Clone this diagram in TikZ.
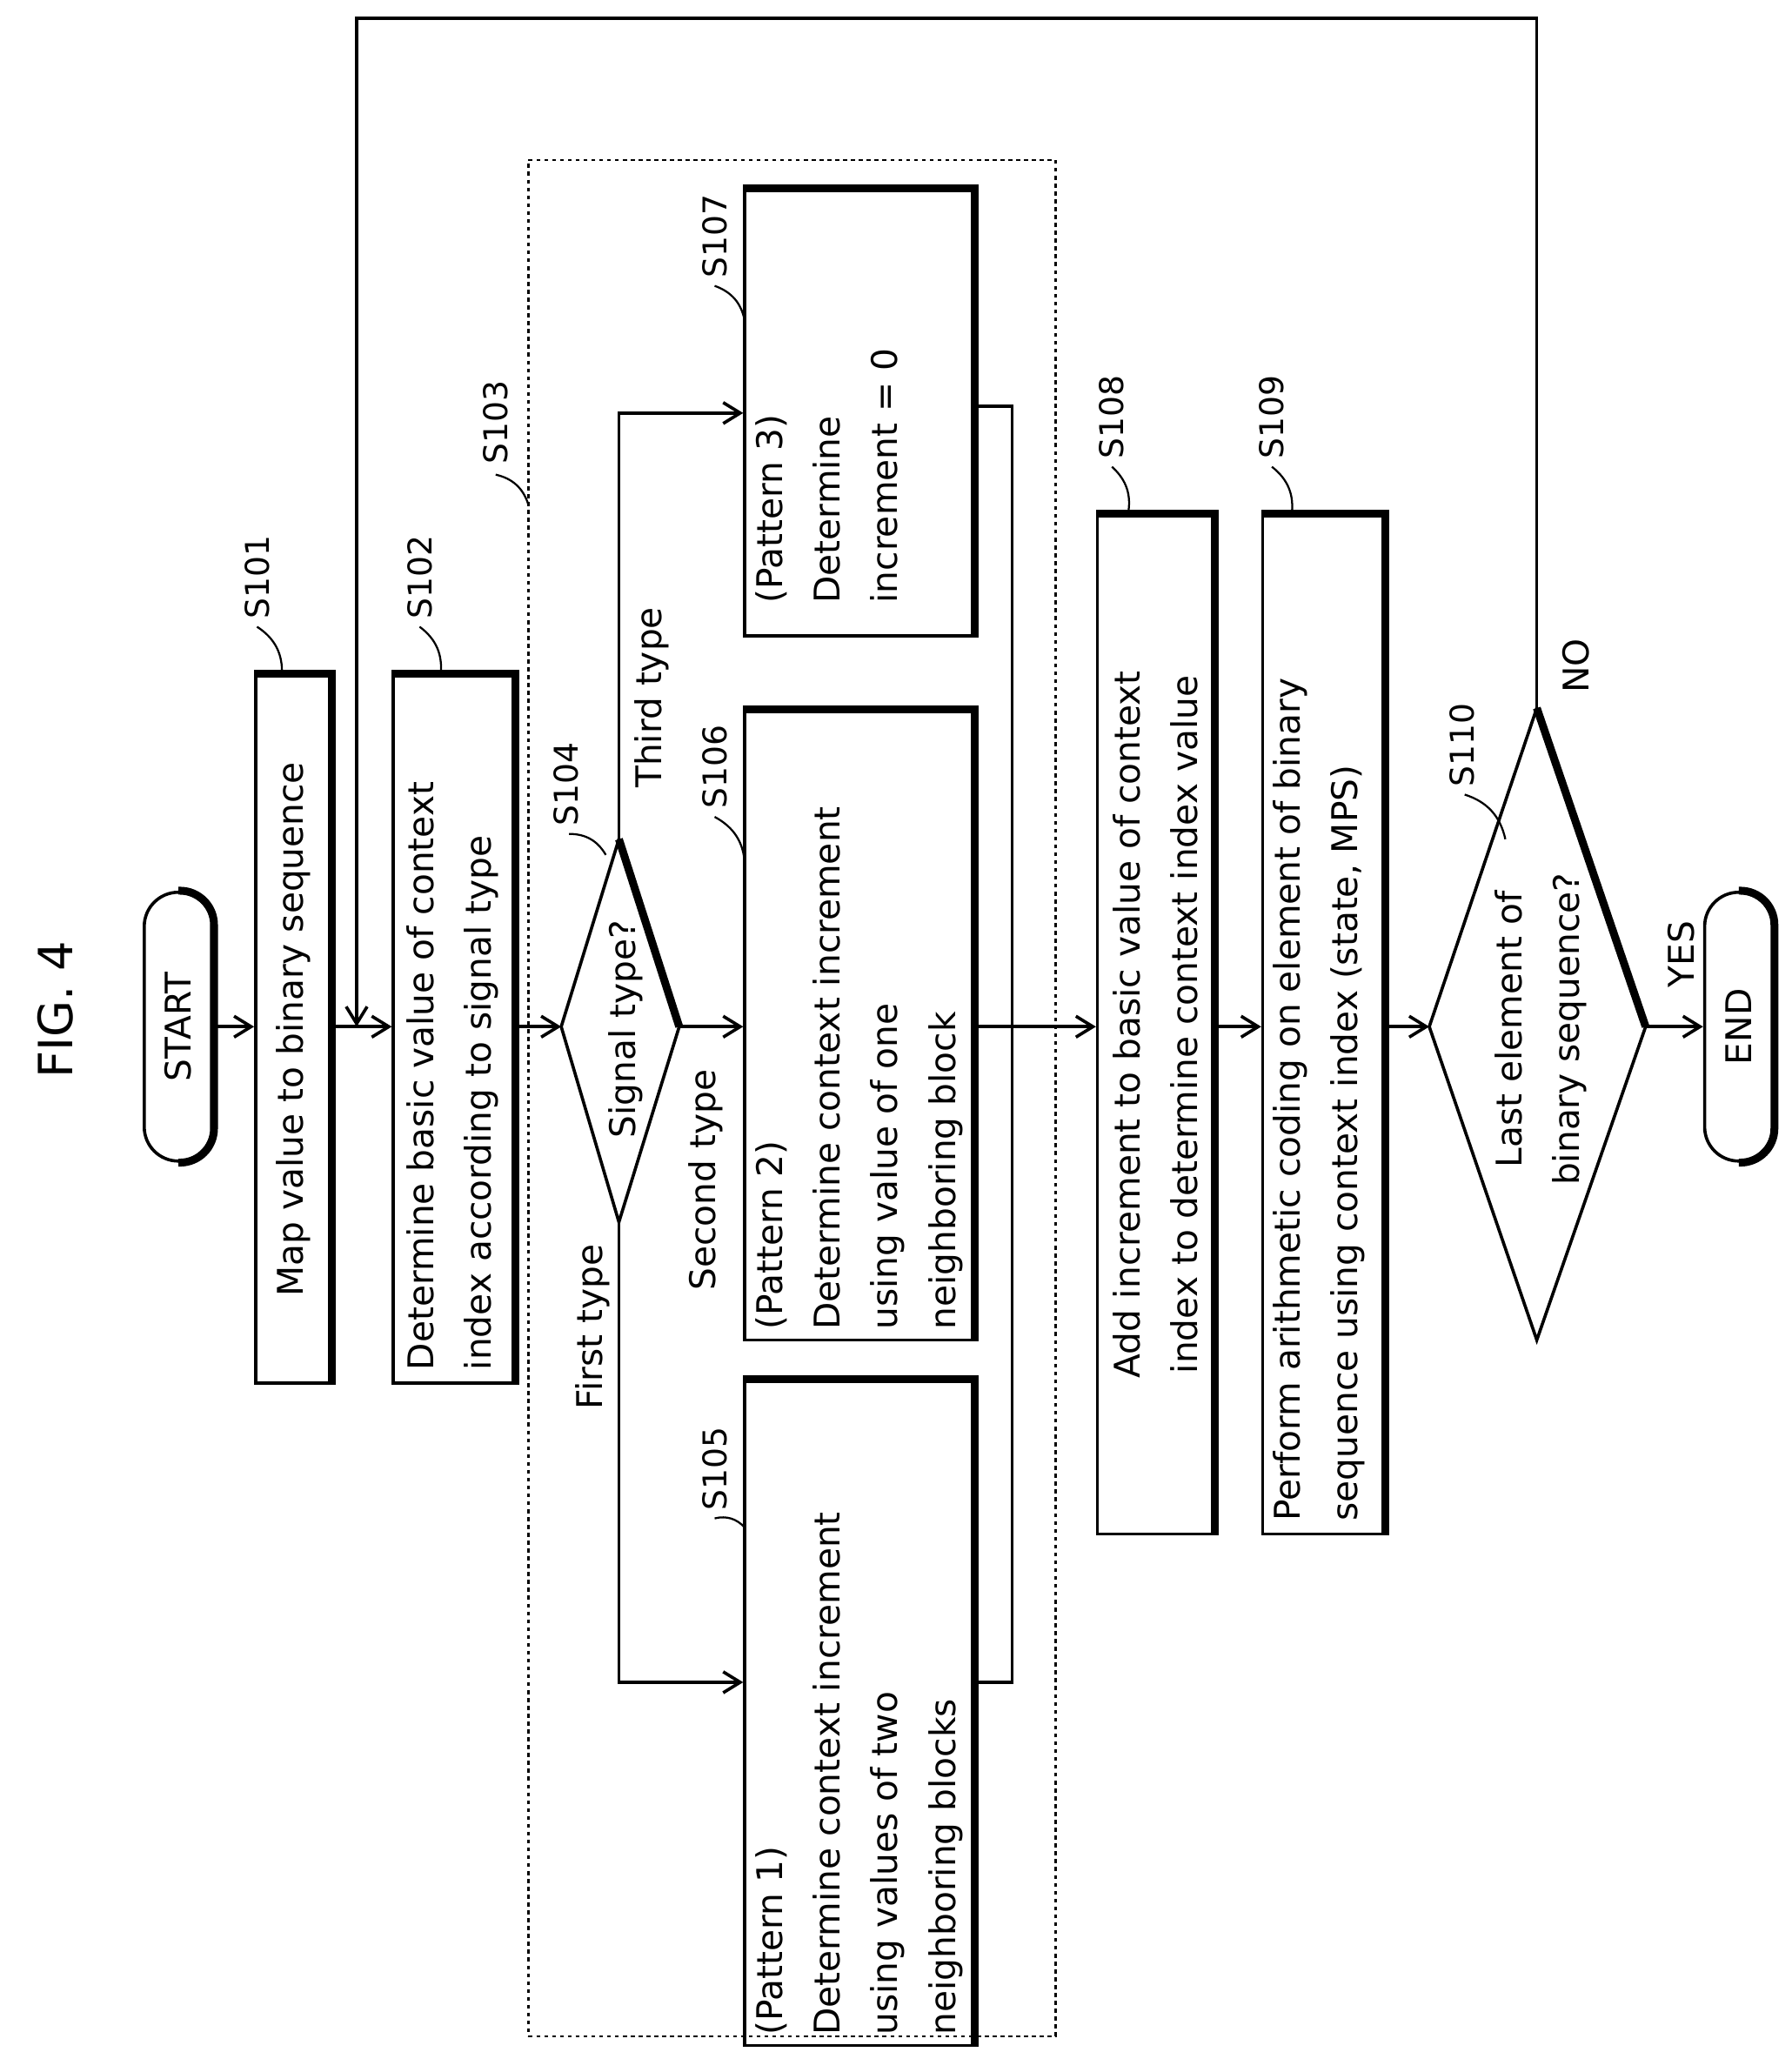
\documentclass[tikz,border=0pt]{standalone}
\usepackage{fontspec}
\setmainfont{DejaVu Sans}
\usetikzlibrary{arrows.meta}
\begin{document}
\begin{tikzpicture}[x=1pt,y=-1pt,line width=2.4pt,
  box/.style={draw,rectangle,inner sep=0pt},
  txt/.style={rotate=90,align=left,inner sep=0pt,font=\fontsize{27}{44}\selectfont},
  lbl/.style={rotate=90,inner sep=0pt,font=\fontsize{25}{30}\selectfont},
  arr/.style={-{Straight Barb[length=13pt,width=16pt,line width=2.4pt]}},
  heavy/.style={line width=6pt}]
\useasboundingbox (0,0) rectangle (1366,1565);
\node[rotate=90,font=\fontsize{36}{40}\selectfont] (fig) at (42,770) {FIG. 4};
% boxes
\node[box,rounded corners=26pt,minimum width=52pt,minimum height=205pt] (start) at (136,783) {};
\node[txt] (tstart) at (start) {START};
\draw[heavy,rounded corners=26pt] (start.north) -- (start.north east) -- (start.south east) -- (start.south);
\node[box,minimum width=57pt,minimum height=540pt] (s101) at (223.5,785) {};
\node[txt,align=center] at (s101) {Map value to binary sequence};
\node[box,minimum width=92pt,minimum height=540pt] (s102) at (346,785) {};
\node[txt,anchor=north west] at ([shift={(10,-10)}]s102.south west) {Determine basic value of context\\index according to signal type};
\node[draw,dashed,line width=1.8pt,minimum width=402pt,minimum height=1431pt,inner sep=0pt] (s103) at (604,837.5) {};
\coordinate (dL) at (428,783); \coordinate (dR) at (518,783);
\coordinate (dT) at (472,640); \coordinate (dB) at (472,932);
\draw (dL) -- (dT) -- (dR) -- (dB) -- cycle;
\draw[heavy] (dT) -- (dR);
\node[txt] (t104) at (477,785) {Signal type?};
\node[box,minimum width=174pt,minimum height=507pt] (s105) at (655,1306.5) {};
\node[txt,anchor=north west] at ([shift={(8,-8)}]s105.south west) {(Pattern 1)\\Determine context increment\\using values of two\\neighboring blocks};
\node[box,minimum width=174pt,minimum height=480pt] (s106) at (655,782) {};
\node[txt,anchor=north west] at ([shift={(8,-8)}]s106.south west) {(Pattern 2)\\Determine context increment\\using value of one\\neighboring block};
\node[box,minimum width=174pt,minimum height=340pt] (s107) at (655,315) {};
\node[txt,anchor=north west] at ([shift={(8,-25)}]s107.south west) {(Pattern 3)\\Determine\\increment = 0};
\node[box,minimum width=88pt,minimum height=777pt] (s108) at (881,781.5) {};
\node[txt,align=center] at (s108) {Add increment to basic value of context\\index to determine context index value};
\node[box,minimum width=92pt,minimum height=777pt] (s109) at (1009,781.5) {};
\node[txt,anchor=north west] at ([shift={(8,-10)}]s109.south west) {Perform arithmetic coding on element of binary\\sequence using context index (state, MPS)};
\coordinate (eL) at (1090,783); \coordinate (eR) at (1255,783);
\coordinate (eT) at (1172,540); \coordinate (eB) at (1172,1022);
\draw (eL) -- (eT) -- (eR) -- (eB) -- cycle;
\draw[heavy] (eT) -- (eR);
\node[txt,align=center] (t110) at (1175,785) {Last element of\\binary sequence?};
\node[box,rounded corners=26pt,minimum width=52pt,minimum height=205pt] (end) at (1326,783) {};
\node[txt] at (end) {END};
\draw[heavy,rounded corners=26pt] (end.north) -- (end.north east) -- (end.south east) -- (end.south);
\foreach \b in {s101,s102,s105,s106,s107,s108,s109}
  \draw[heavy] (\b.north west) -- (\b.north east) -- (\b.south east);
% connectors
\draw[arr] (start.east) -- (s101.west |- start.east);
\draw[arr] (s101.east |- start.east) -- (s102.west |- start.east);
\draw[arr] (s102.east |- start.east) -- (dL);
\draw[arr] (dR) -- (s106.west |- dR);
\draw[arr] (dT) |- (s107.west);
\draw[arr] (dB) |- (s105.west |- 0,1283);
\coordinate (m1) at (772,310);
\draw (s107.east |- m1) -- (m1) -- (772,1283) -- (s105.east |- 0,1283);
\draw[arr] (s106.east |- dR) -- (s108.west |- dR);
\draw[arr] (s108.east |- dR) -- (s109.west |- dR);
\draw[arr] (s109.east |- dR) -- (eL);
\draw[arr] (eR) -- (end.west);
\coordinate (c1) at (1172,14); \coordinate (c2) at (272,14); \coordinate (c3) at (272,783);
\draw[arr] (eT) -- (c1) -- (c2) -- (c3);
% branch labels
\node[lbl,font=\fontsize{27}{30}\selectfont] at (452,1012) {First type};
\node[lbl,font=\fontsize{27}{30}\selectfont] at (538,900) {Second type};
\node[lbl,font=\fontsize{27}{30}\selectfont] at (497,532) {Third type};
\node[lbl,font=\fontsize{27}{30}\selectfont] at (1282,728) {YES};
\node[lbl,font=\fontsize{27}{30}\selectfont] at (1202,508) {NO};
% step labels
\node[lbl] (l101) at (196,440) {S101};
\draw[line width=1.5pt] (196,478) to[bend left=30] (215,515);
\node[lbl] (l102) at (320,440) {S102};
\draw[line width=1.5pt] (320,478) to[bend left=30] (336,515);
\node[lbl] (l103) at (378,322) {S103};
\draw[line width=1.5pt] (378,362) to[bend left=30] (403,385);
\node[lbl] (l104) at (432,598) {S104};
\draw[line width=1.5pt] (434,636) to[bend left=30] (462,652);
\node[lbl] (l105) at (545,1120) {S105};
\draw[line width=1.5pt] (545,1158) to[bend left=30] (568,1165);
\node[lbl] (l106) at (545,585) {S106};
\draw[line width=1.5pt] (545,623) to[bend left=30] (568,660);
\node[lbl] (l107) at (545,180) {S107};
\draw[line width=1.5pt] (545,218) to[bend left=30] (568,245);
\node[lbl] (l108) at (848,318) {S108};
\draw[line width=1.5pt] (848,356) to[bend left=30] (860,393);
\node[lbl] (l109) at (970,318) {S109};
\draw[line width=1.5pt] (970,356) to[bend left=30] (985,393);
\node[lbl] (l110) at (1115,568) {S110};
\draw[line width=1.5pt] (1117,606) to[bend left=30] (1148,640);
\end{tikzpicture}
\end{document}
